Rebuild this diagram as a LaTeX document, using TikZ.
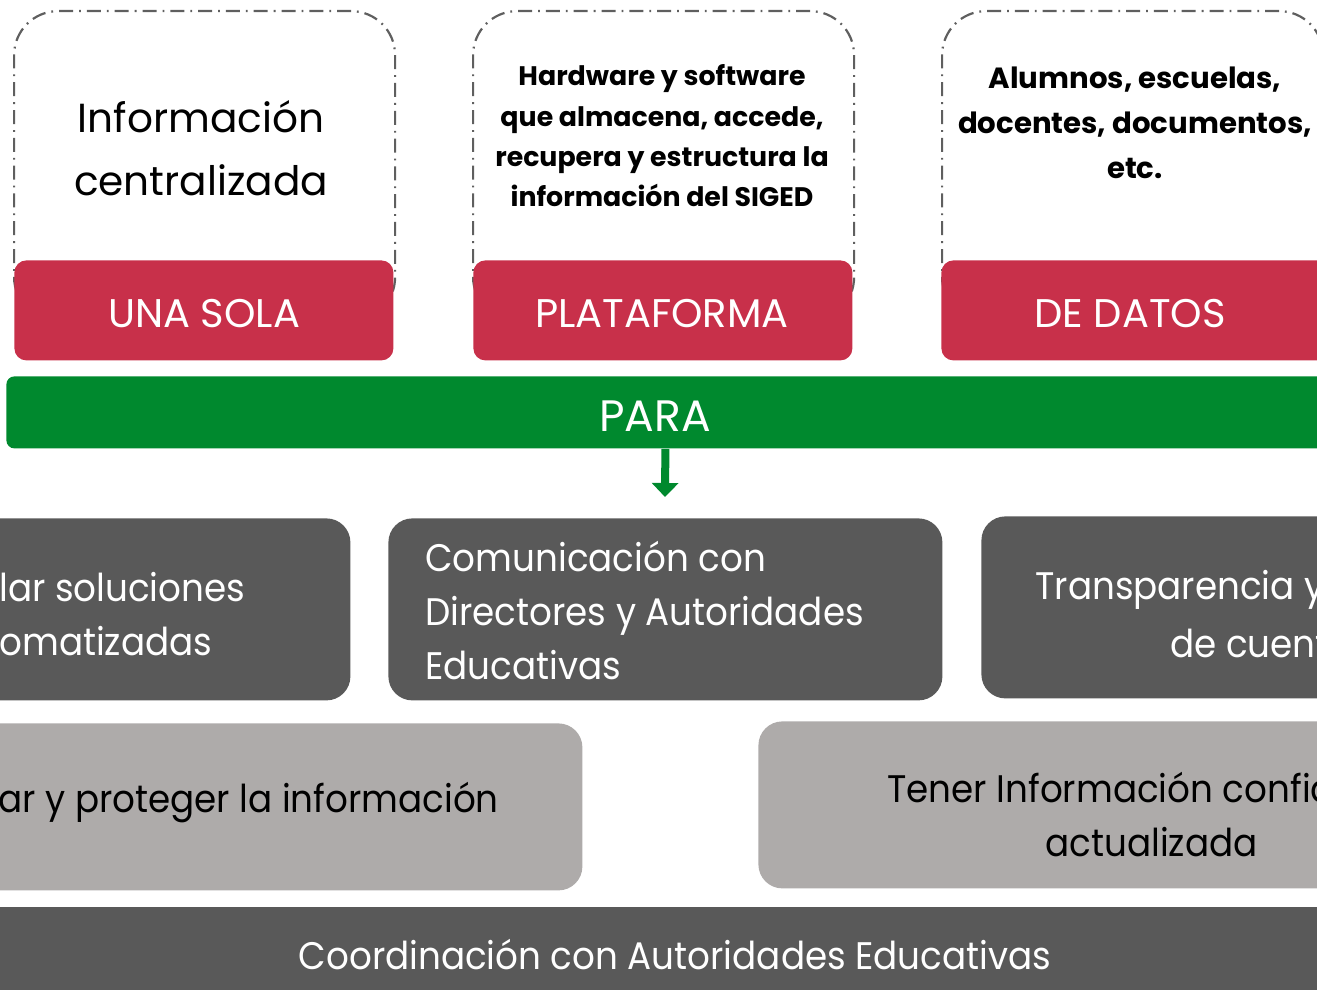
\documentclass[tikz,border=0pt]{standalone}
\usepackage{fontspec}
\setmainfont{Poppins}
\newfontfamily\estrecha[FakeStretch=0.93]{Poppins}
\usetikzlibrary{positioning, arrows.meta}

\definecolor{rojo}{RGB}{200,48,74}
\definecolor{verde}{RGB}{0,137,46}
\definecolor{grisosc}{RGB}{89,89,89}
\definecolor{grisclaro}{RGB}{174,171,170}
\definecolor{lineagris}{RGB}{95,95,95}

\begin{document}
\begin{tikzpicture}[
    x=0.5pt, y=-0.5pt,
    marco/.style={draw=lineagris, line width=1.1pt, dash pattern=on 7pt off 3pt on 0.9pt off 3pt,
        rounded corners=22pt, minimum width=190.5pt, minimum height=155pt, anchor=north west, inner sep=0pt},
    etiqueta/.style={fill=rojo, rounded corners=6pt, minimum width=189.5pt, minimum height=50pt,
        anchor=north west, inner sep=0pt},
    rotulo/.style={text=white, font=\fontsize{20}{22}\selectfont},
    caja/.style={rounded corners=12pt, anchor=north west, inner sep=0pt},
    texto/.style={anchor=west, inner sep=0pt, align=left, font=\estrecha\fontsize{19.2}{27}\selectfont},
    flecha/.style={-{Triangle[width=13pt, length=7pt]}, line width=4pt, draw=verde}
]
\useasboundingbox (0,0) rectangle (1317,990);
\clip (0,0) rectangle (1317,990);

% Marcos punteados
\node[marco] (m1) at (13,10) {};
\node[marco] (m2) at (472,10) {};
\node[marco] (m3) at (941,10) {};

\node[align=center, font=\fontsize{20.3}{31.5}\selectfont] (t1) at (201,148) {Información\\centralizada};
\node[align=center, font=\bfseries\fontsize{13.4}{20.2}\selectfont] (t2) at (662,136) {Hardware y software\\que almacena, accede,\\recupera y estructura la\\información del SIGED};
\node[align=center, font=\bfseries\fontsize{14.6}{22.5}\selectfont] (t3) at (1135,123) {Alumnos, escuelas,\\docentes, documentos,\\etc.};

% Etiquetas rojas
\node[etiqueta] (una) at (14,260) {};
\node[rotulo] (tuna) at (204,314) {UNA SOLA};
\node[etiqueta] (plataforma) at (473,260) {};
\node[rotulo] (tplataforma) at (662,314) {PLATAFORMA};
\node[etiqueta, minimum width=200pt] (datos) at (941,260) {};
\node[rotulo] (tdatos) at (1130,314) {DE DATOS};

% Barra PARA
\node[caja, fill=verde, rounded corners=4pt, minimum width=659pt, minimum height=36pt] (barra) at (6,376) {};
\node[rotulo, font=\fontsize{22}{24}\selectfont] (para) at (655,416) {PARA};
\coordinate (punta) at (665,497);
\draw[flecha] (barra.south) -- (punta);

% Primera fila
\node[caja, fill=grisosc, minimum width=205pt, minimum height=91pt] (c1) at (-60,518) {};
\node[texto, text=white] (tc1) at (-1,614) {lar soluciones\\omatizadas};
\node[caja, fill=grisosc, minimum width=277pt, minimum height=91pt] (c2) at (388,518) {};
\node[texto, text=white] (tc2) at (425,611) {Comunicación con\\Directores y Autoridades\\Educativas};
\node[caja, fill=grisosc, minimum width=200pt, minimum height=91pt] (c3) at (981,516) {};
\node[texto, text=white] (tc3a) at (1035,590) {Transparencia y};
\node[texto, text=white] (tc3b) at (1170,643) {de cuent};

% Segunda fila
\node[caja, fill=grisclaro, minimum width=321pt, minimum height=83.5pt] (c4) at (-60,723) {};
\node[texto] (tc4) at (-2,803) {ar y proteger la información};
\node[caja, fill=grisclaro, minimum width=300pt, minimum height=83.5pt] (c5) at (758,721) {};
\node[texto] (tc5a) at (887,788) {Tener Información confia};
\node[texto] (tc5b) at (1045,842) {actualizada};

% Barra inferior
\node[caja, fill=grisosc, rounded corners=0pt, minimum width=700pt, minimum height=60pt] (base) at (-20,907) {};
\node[text=white, font=\estrecha\fontsize{19.2}{22}\selectfont] (tbase) at (675,955) {Coordinación con Autoridades Educativas};
\end{tikzpicture}
\end{document}
